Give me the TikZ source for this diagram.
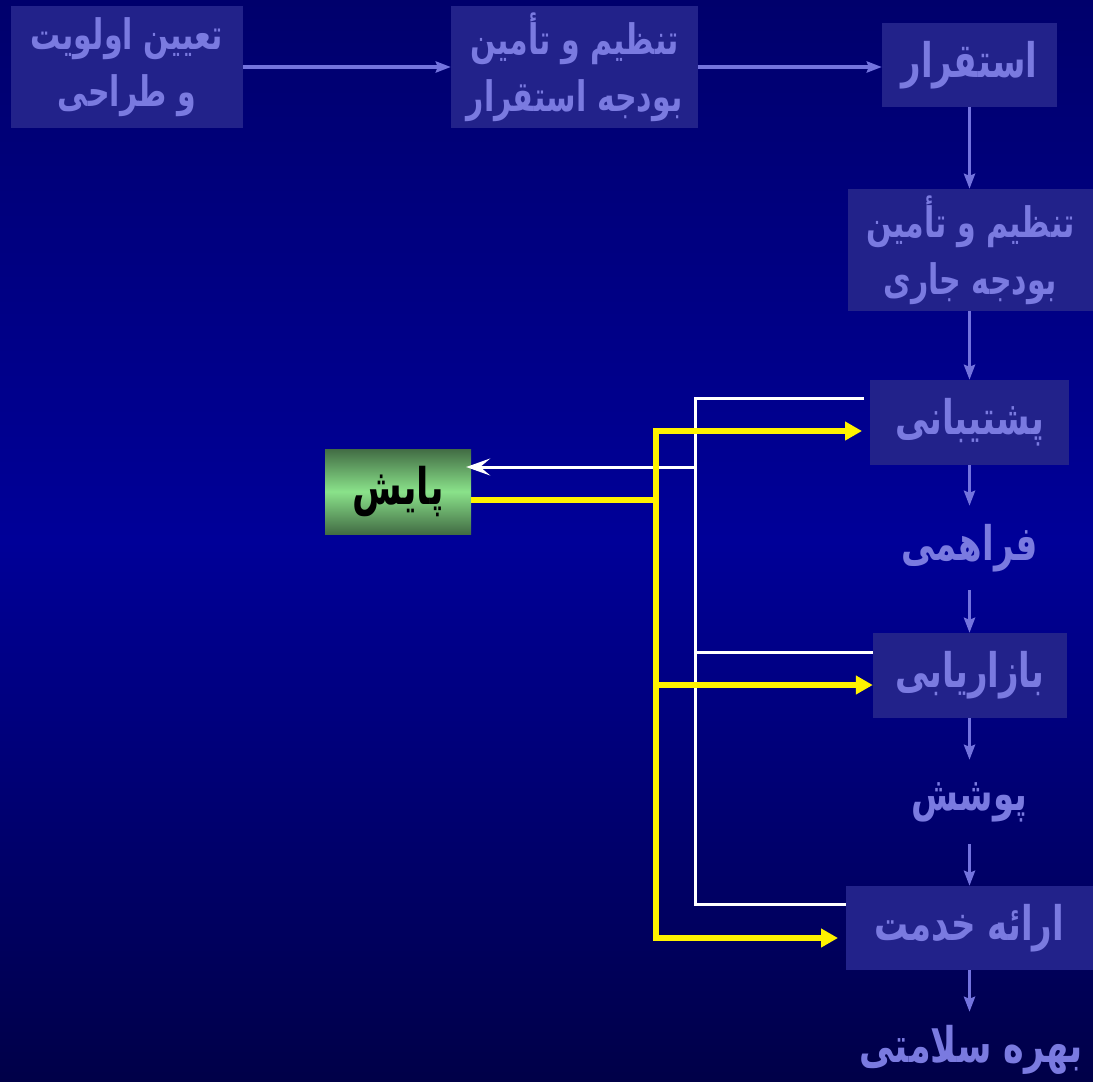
\documentclass[tikz,border=0pt]{standalone}
\usepackage{fontspec}
\usepackage{graphicx}
\TeXXeTstate=1
\newfontfamily\arabicfont[Script=Arabic]{DejaVu Sans}
\usetikzlibrary{arrows.meta}
\newcommand\tallR[1]{\scalebox{1}[1.4]{\beginR #1\endR}}
\definecolor{boxfill}{RGB}{34,34,138}
\definecolor{boxtext}{RGB}{122,122,224}
\definecolor{bgtop}{RGB}{0,0,108}
\definecolor{bgmid}{RGB}{0,0,152}
\definecolor{bgbot}{RGB}{0,0,72}
\definecolor{lav}{RGB}{115,115,222}
\definecolor{gdark}{RGB}{66,108,68}
\definecolor{glight}{RGB}{138,226,138}
\tikzset{
  box/.style={fill=boxfill, text=boxtext, inner sep=0pt, align=center,
    font=\arabicfont\bfseries\fontsize{30}{57}\selectfont},
  onebox/.style={box, font=\arabicfont\bfseries\fontsize{34}{56}\selectfont},
  lbl/.style={text=boxtext, inner sep=0pt, align=center, minimum height=84pt,
    font=\arabicfont\bfseries\fontsize{34}{56}\selectfont},
  flow/.style={draw=lav, line width=3.5pt, -{Stealth[length=15pt,width=11pt,inset=2pt]}},
  wline/.style={draw=white, line width=3pt, line join=miter},
  yline/.style={draw=yellow, line width=5.5pt, line join=miter},
  ytip/.style={-{Triangle[length=17pt,width=18pt]}},
}
\begin{document}
\begin{tikzpicture}[x=1pt,y=-1pt]
\shade[top color=bgtop, bottom color=bgbot, middle color=bgmid] (0,0) rectangle (1093,1082);
\useasboundingbox (0,0) rectangle (1093,1082);
% boxes
\node[box, minimum width=232pt, minimum height=122pt] (B1) at (127,67) {\tallR{تعیین اولویت}\\\tallR{و طراحی}};
\node[box, minimum width=247pt, minimum height=122pt] (B2) at (574.5,67) {\tallR{تنظیم و تأمین}\\\tallR{بودجه استقرار}};
\node[onebox, minimum width=175pt, minimum height=84pt] (B3) at (969.5,65) {\tallR{استقرار}};
\node[box, minimum width=245pt, minimum height=122pt] (B4) at (970.5,250) {\tallR{تنظیم و تأمین}\\\tallR{بودجه جاری}};
\node[onebox, minimum width=199pt, minimum height=85pt] (B5) at (969.5,422.5) {\tallR{پشتیبانی}};
\node[lbl] (F) at (969.5,548) {\tallR{فراهمی}};
\node[onebox, minimum width=194pt, minimum height=85pt] (B6) at (970,675.5) {\tallR{بازاریابی}};
\node[lbl] (P) at (969.5,802) {\tallR{پوشش}};
\node[onebox, minimum width=247pt, minimum height=84pt] (B7) at (969.5,928) {\tallR{ارائه خدمت}};
\node[lbl, minimum height=76pt, font=\arabicfont\bfseries\fontsize{35}{56}\selectfont] (H) at (971,1050) {\tallR{بهره سلامتی}};
\node[top color=gdark, bottom color=gdark, middle color=glight, inner sep=0pt,
  minimum width=146pt, minimum height=85pt, text=black,
  font=\arabicfont\bfseries\fontsize{36}{40}\selectfont] (G) at (398,491.5) {\tallR{پایش}};
% main flow
\draw[flow] (B1.east) -- (B2.west);
\draw[flow] (B2.east) -- (B2.east -| B3.west);
\draw[flow] (B3.south -| B5.north) -- (B4.north -| B5.north);
\draw[flow] (B4.south -| B5.north) -- (B5.north);
\draw[flow] (B5.south) -- (F.north);
\draw[flow] (F.south) -- (F.south |- B6.north);
\draw[flow] (B6.south -| F.south) -- (P.north);
\draw[flow] (P.south) -- (P.south |- B7.north);
\draw[flow] (B7.south) -- (B7.south |- H.north);
% white feedback lines
\coordinate (w5) at (864,398);
\coordinate (wtop) at (695,398);
\coordinate (wmid) at (695,652);
\coordinate (wbot) at (695,904);
\coordinate (wg) at (695,467);
\coordinate (w6) at (B6.west |- wmid);
\coordinate (w7) at (B7.west |- wbot);
\draw[wline] (w5) -- (wtop) -- (wbot) -- (w7);
\draw[wline] (wmid) -- (w6);
\draw[wline, -{Stealth[length=24pt,width=17pt,inset=10pt]}] (wg) -- ([xshift=-5pt]G.east |- wg);
% yellow control lines
\coordinate (yg) at (656,500);
\coordinate (yt) at (656,431);
\coordinate (ym) at (656,685);
\coordinate (yb) at (656,938);
\coordinate (t5) at (862,431);
\coordinate (t6) at (B6.west |- ym);
\coordinate (t7) at (838,938);
\draw[yline] (G.east |- yg) -- (yg);
\draw[yline, {Triangle[length=17pt,width=18pt]}-{Triangle[length=17pt,width=18pt]}] (t5) -- (yt) -- (yb) -- (t7);
\draw[yline, ytip] (ym) -- (t6);
\end{tikzpicture}
\end{document}
